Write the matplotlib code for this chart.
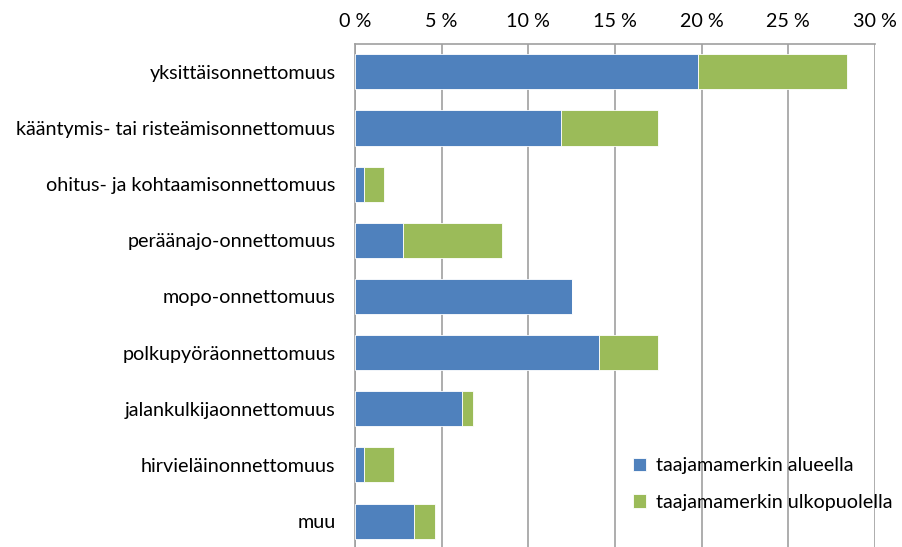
import matplotlib.pyplot as plt
import numpy as np

categories = [
    "yksittäisonnettomuus",
    "kääntymis- tai risteämisonnettomuus",
    "ohitus- ja kohtaamisonnettomuus",
    "peräänajo-onnettomuus",
    "mopo-onnettomuus",
    "polkupyöräonnettomuus",
    "jalankulkijaonnettomuus",
    "hirvieläinonnettomuus",
    "muu",
]
# percent of accidents
inside = [19.8, 11.9, 0.5, 2.8, 12.5, 14.1, 6.2, 0.5, 3.4]
outside = [8.6, 5.6, 1.2, 5.7, 0.0, 3.4, 0.6, 1.75, 1.2]
series_names = ["taajamamerkin alueella", "taajamamerkin ulkopuolella"]
xticks = [0, 5, 10, 15, 20, 25, 30]

plt.rcParams['font.family'] = ['Lato', 'DejaVu Sans']
fs = 14.2

fig = plt.figure(figsize=(9.03, 5.47), dpi=100)
ax = fig.add_axes([0.393, -0.004, 0.576, 0.924])

y = np.arange(len(categories))
ax.barh(y, inside, height=0.625, color="#4F81BD", edgecolor="white",
        linewidth=0.6, label=series_names[0], zorder=3)
ax.barh(y, outside, left=inside, height=0.625, color="#9BBB59",
        edgecolor="white", linewidth=0.6, label=series_names[1], zorder=3)

ax.set_ylim(len(categories) - 0.5, -0.5)
ax.set_xlim(0, 30)
ax.set_yticks(y)
ax.set_yticklabels(categories, fontsize=fs)
ax.set_xticks(xticks)
ax.set_xticklabels([f"{t} %" for t in xticks], fontsize=fs)
ax.xaxis.tick_top()
ax.tick_params(axis="x", length=0, pad=10)
ax.tick_params(axis="y", length=0, pad=14)
ax.grid(axis="x", color="#A0A0A0", linewidth=1.2, zorder=0)

for side in ["right", "bottom"]:
    ax.spines[side].set_visible(False)
for side in ["left", "top"]:
    ax.spines[side].set_color("#A0A0A0")
    ax.spines[side].set_linewidth(1.2)

ax.legend(loc="lower left", bbox_to_anchor=(0.5, 0.04), frameon=False,
          fontsize=fs, handlelength=0.7, handleheight=0.7,
          handletextpad=0.5, labelspacing=1.0)

fig.savefig("out.png", dpi=100)
